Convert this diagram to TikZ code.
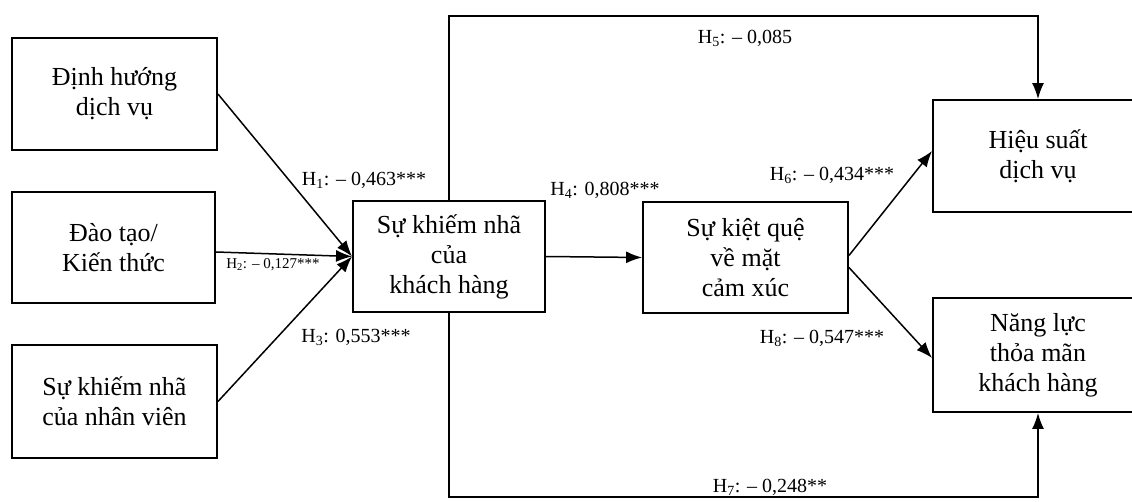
\documentclass[tikz,border=0pt]{standalone}
\usepackage{fontspec}
\setmainfont{Liberation Serif}
\usetikzlibrary{arrows.meta}
\tikzset{
  box/.style={draw=black, line width=1.9pt, fill=white, align=center, inner sep=0pt,
    font=\fontsize{26}{30}\selectfont},
  conn/.style={line width=1.5pt, -{Latex[length=16pt,width=12pt]}},
  lab/.style={inner sep=0pt, font=\fontsize{20}{22}\selectfont},
  slab/.style={inner sep=0pt, font=\fontsize{15}{17}\selectfont},
}
\begin{document}
\begin{tikzpicture}[x=1pt,y=-1pt]
\useasboundingbox (0,0) rectangle (1132,502);
\fill[white] (0,0) rectangle (1132,502);
\node[box, minimum width=205pt, minimum height=112pt] (dh) at (114.5,94) {Định hướng\\dịch vụ};
\node[box, minimum width=203pt, minimum height=111pt] (dt) at (113.5,247.5) {Đào tạo/\\Kiến thức};
\node[box, minimum width=205pt, minimum height=113pt] (nv) at (114.5,401.5) {Sự khiếm nhã\\của nhân viên};
\node[box, minimum width=192pt, minimum height=111pt] (kh) at (449,256.5) {Sự khiếm nhã\\của\\khách hàng};
\node[box, minimum width=205pt, minimum height=111pt] (kq) at (745.5,257.5) {Sự kiệt quệ\\về mặt\\cảm xúc};
\node[box, minimum width=210pt, minimum height=112pt] (hs) at (1038,156) {Hiệu suất\\dịch vụ};
\node[box, minimum width=210pt, minimum height=114pt] (nl) at (1038,355) {Năng lực\\thỏa mãn\\khách hàng};
\coordinate (top) at (0,16);
\coordinate (bot) at (0,497);
\draw[conn] (dh.east) -- (kh.west);
\draw[conn] ([yshift=-4.5pt]dt.east) -- (kh.west);
\draw[conn] (nv.east) -- (kh.west);
\draw[conn] (kh.east) -- (kq.west);
\draw[conn] ([yshift=2pt]kq.east) -- ([yshift=5pt]hs.west);
\draw[conn] ([yshift=-10pt]kq.east) -- ([yshift=-3pt]nl.west);
\draw[conn] (kh.north) -- (kh.north |- top) -| (hs.north);
\draw[conn] (kh.south) -- (kh.south |- bot) -| (nl.south);
\node[lab] (l1) at (364,180) {H\textsubscript{1}: – 0,463***};
\node[slab] (l2) at (273,265) {H\textsubscript{2}: – 0,127***};
\node[lab] (l3) at (356,337) {H\textsubscript{3}: 0,553***};
\node[lab] (l4) at (605,190) {H\textsubscript{4}: 0,808***};
\node[lab] (l5) at (745,38) {H\textsubscript{5}: – 0,085};
\node[lab] (l6) at (832,175) {H\textsubscript{6}: – 0,434***};
\node[lab] (l8) at (822,338) {H\textsubscript{8}: – 0,547***};
\node[lab] (l7) at (770,487) {H\textsubscript{7}: – 0,248**};
\end{tikzpicture}
\end{document}
